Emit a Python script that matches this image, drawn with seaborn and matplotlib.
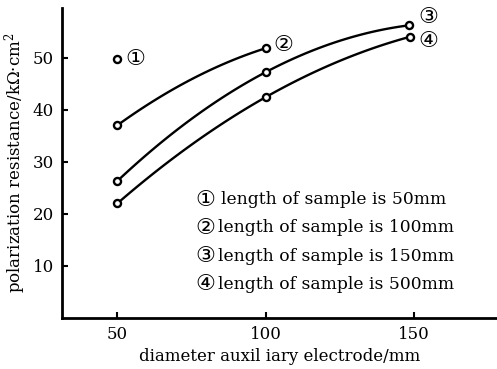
import numpy as np
import pandas as pd
import matplotlib
matplotlib.use("Agg")
import matplotlib.pyplot as plt
import seaborn as sns

# ---- data ----
x_s1 = [50]
y_s1 = [49.7]
x_s2 = [50, 100]
y_s2 = [37.0, 51.8]
x_s3 = [50, 100, 148.4]
y_s3 = [26.3, 47.2, 56.2]
x_s4 = [50, 100, 148.7]
y_s4 = [22.0, 42.4, 54.0]
series_labels = ["①", "②", "③", "④"]
legend_text = ["length of sample is 50mm",
               "length of sample is 100mm",
               "length of sample is 150mm",
               "length of sample is 500mm"]
x_ticks = [50, 100, 150]
y_ticks = [10, 20, 30, 40, 50]

sns.set_theme(style="ticks")
plt.rcParams['font.family'] = ['DejaVu Serif', 'DejaVu Sans']
plt.rcParams['mathtext.fontset'] = 'dejavuserif'
for k in ['text.color', 'axes.labelcolor', 'xtick.color', 'ytick.color', 'axes.edgecolor']:
    plt.rcParams[k] = 'black'

fig = plt.figure(figsize=(4.97, 3.69), dpi=100)
ax = fig.add_axes([0.125, 0.138, 0.875, 0.84])

def smooth(xs, ys, bend=-0.0023):
    xs = np.asarray(xs, float); ys = np.asarray(ys, float)
    if len(xs) >= 3:
        c = np.polyfit(xs, ys, 2)
    else:
        # quadratic through two points with a gentle concave bend
        a = bend
        b = (ys[1] - ys[0]) / (xs[1] - xs[0]) - a * (xs[0] + xs[1])
        c0 = ys[0] - a * xs[0] ** 2 - b * xs[0]
        c = np.array([a, b, c0])
    xx = np.linspace(xs[0], xs[-1], 120)
    return pd.DataFrame({"x": xx, "y": np.polyval(c, xx)})

for xs, ys in [(x_s2, y_s2), (x_s3, y_s3), (x_s4, y_s4)]:
    d = smooth(xs, ys)
    sns.lineplot(data=d, x="x", y="y", ax=ax, color="black", lw=1.7,
                 sort=False, estimator=None)

for xs, ys in [(x_s1, y_s1), (x_s2, y_s2), (x_s3, y_s3), (x_s4, y_s4)]:
    sns.scatterplot(x=xs, y=ys, ax=ax, marker="o", s=26, facecolor="white",
                    edgecolor="black", linewidth=1.7, zorder=5)

circ_fs = 16
label_pos = [(56, 49.8), (106, 52.5), (154.7, 57.7), (154.7, 53.1)]
for lab, (lx, ly) in zip(series_labels, label_pos):
    ax.text(lx, ly, lab, fontsize=circ_fs, va="center", ha="center",
            family=['DejaVu Sans'])

for i, t in enumerate(legend_text):
    yy = 22.7 - i * 5.4
    ax.text(76.3, yy, series_labels[i], fontsize=circ_fs, va="center", ha="left",
            family=['DejaVu Sans'])
    ax.text(84.8 if i == 0 else 84.0, yy, t, fontsize=12.3, va="center", ha="left")

ax.set_xlim(31.4, 178)
ax.set_ylim(0, 59.5)
ax.set_xticks(x_ticks)
ax.set_yticks(y_ticks)
ax.tick_params(direction="in", length=4, width=1.5, labelsize=12, pad=6)
for s in ["top", "right"]:
    ax.spines[s].set_visible(False)
for s in ["left", "bottom"]:
    ax.spines[s].set_linewidth(2)
ax.set_xlabel("diameter auxil iary electrode/mm", fontsize=12, labelpad=3)
ax.set_ylabel("polarization resistance/k$\\Omega$·cm$^2$", fontsize=12, labelpad=3)

fig.savefig("out.png", dpi=100)
